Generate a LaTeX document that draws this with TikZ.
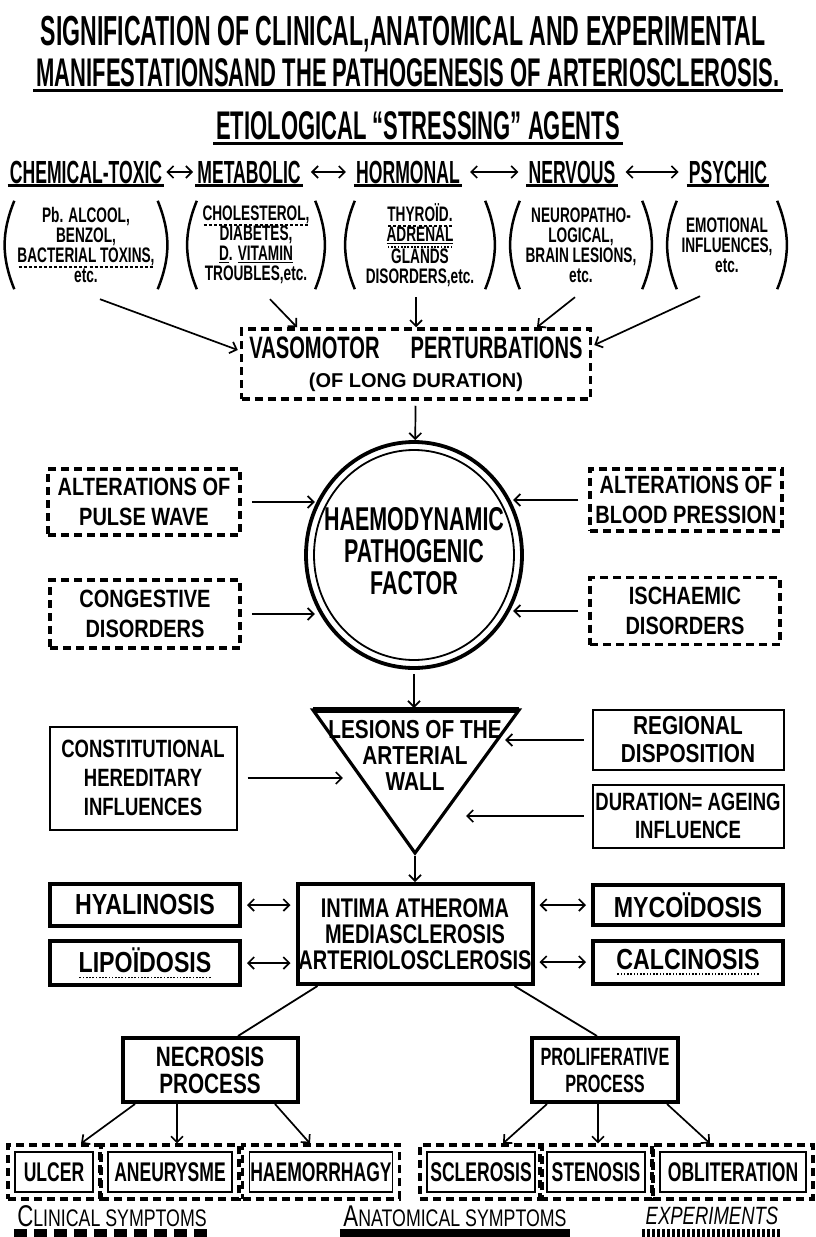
\documentclass[tikz,border=0pt]{standalone}
\usepackage{fontspec}
\setmainfont{Liberation Sans}
\newfontfamily\condA{Liberation Sans}[FakeStretch=0.55]
\newfontfamily\condB{Liberation Sans}[FakeStretch=0.65]
\newfontfamily\condC{Liberation Sans}[FakeStretch=0.74]
\newfontfamily\condD{Liberation Sans}[FakeStretch=0.8]
\usetikzlibrary{arrows.meta,positioning,calc,shapes.geometric,fit}

% dashed and dotted underlines
\newcommand{\dashul}[1]{\setbox0=\hbox{#1}\rlap{\raisebox{-5pt}{\hbox to \wd0{\xleaders\hbox to 5pt{\hss\rule{3pt}{1.6pt}\hss}\hfill}}}\box0}
\newcommand{\dotul}[1]{\setbox0=\hbox{#1}\rlap{\raisebox{-6pt}{\hbox to \wd0{\xleaders\hbox to 3.2pt{\hss\rule{1.7pt}{1.7pt}\hss}\hfill}}}\box0}

\begin{document}
\begin{tikzpicture}[x=1pt,y=-1pt,
  >={Straight Barb[length=6pt,width=12pt]},
  dashbox/.style={draw, line width=3.5pt, dash pattern=on 8pt off 5pt, align=center, inner sep=0pt},
  thinbox/.style={draw, line width=2pt, align=center, inner sep=0pt},
  thickbox/.style={draw, line width=4pt, align=center, inner sep=0pt},
  sidebox/.style={thickbox, minimum width=190pt, font=\condD\bfseries\fontsize{29}{29}\selectfont},
  symbox/.style={draw, line width=1.6pt, inner sep=0pt, minimum height=40pt, font=\condB\bfseries\fontsize{27}{27}\selectfont},
  symframe/.style={draw, line width=3.5pt, dash pattern=on 8pt off 5pt, inner sep=6pt},
  link/.style={->, line width=1.7pt},
  twoway/.style={<->, line width=1.7pt},
  paren/.style={line width=2.5pt},
  ul/.style={append after command={\pgfextra{\let\ulnode=\tikzlastnode} (\ulnode.south west) edge[line width=2.5pt] (\ulnode.south east)}},
  agent/.style={ul, inner sep=2pt, font=\condA\bfseries\fontsize{32}{32}\selectfont},
  cause/.style={align=center, inner sep=0pt, minimum height=88pt, font=\condB\bfseries\fontsize{21}{20}\selectfont}
]
\path[use as bounding box, fill=white] (0,0) rectangle (816,1237);

% title
\node[font=\condA\bfseries\fontsize{42}{42}\selectfont] (title1) at (403,34) {SIGNIFICATION OF CLINICAL,ANATOMICAL AND EXPERIMENTAL};
\node[ul, inner sep=3pt, font=\condA\bfseries\fontsize{40}{40}\selectfont] (title2) at (408,73) {MANIFESTATIONSAND THE PATHOGENESIS OF ARTERIOSCLEROSIS.};
\node[ul, inner sep=3pt, font=\condA\bfseries\fontsize{40}{40}\selectfont] (agents) at (418,126) {ETIOLOGICAL “STRESSING” AGENTS};

% etiological agents
\node[agent] (chemical) at (86,172) {CHEMICAL-TOXIC};
\node[agent] (metabolic) at (249,172) {METABOLIC};
\node[agent] (hormonal) at (408,172) {HORMONAL};
\node[agent] (nervous) at (572,172) {NERVOUS};
\node[agent] (psychic) at (728,172) {PSYCHIC};
\draw[twoway, shorten <=2pt, shorten >=2pt] (chemical) -- (metabolic);
\draw[twoway, shorten <=8pt, shorten >=8pt] (metabolic) -- (hormonal);
\draw[twoway, shorten <=8pt, shorten >=8pt] (hormonal) -- (nervous);
\draw[twoway, shorten <=8pt, shorten >=8pt] (nervous) -- (psychic);

\node[cause, minimum width=143pt] (toxic) at (86,245) {Pb. ALCOOL,\\BENZOL,\\\dashul{BACTERIAL TOXINS,}\\etc.};
\node[cause, minimum width=118pt] (metab) at (256,245) {\dashul{CHOLESTEROL,}\\DIABETES,\\\underline{D}. \underline{VITAMIN}\\TROUBLES,etc.};
\node[cause, minimum width=130pt] (hormon) at (420,245) {\dashul{THYROÏD.}\\\dotul{\underline{ADRENAL}}\\GLANDS\\DISORDERS,etc.};
\node[cause, minimum width=122pt] (nervo) at (581,245) {NEUROPATHO-\\LOGICAL,\\BRAIN LESIONS,\\etc.};
\node[cause, minimum width=100pt] (emotion) at (727,245) {EMOTIONAL\\INFLUENCES,\\etc.};
\foreach \g in {toxic,metab,hormon,nervo,emotion}{
  \draw[paren] (\g.north west) to[bend right=22] (\g.south west);
  \draw[paren] (\g.north east) to[bend left=22] (\g.south east);
}

% vasomotor
\node[dashbox, minimum width=349pt, minimum height=70pt, font=\condB\bfseries\fontsize{31}{30}\selectfont] (vaso) at (416,364) {VASOMOTOR\quad PERTURBATIONS\\[-1pt]{\normalfont\bfseries\fontsize{20}{20}\selectfont (OF LONG DURATION)}};
\draw[link] ($(toxic.south)+(14,10)$) -- ($(vaso.west)+(-2,-14)$);
\draw[link] ($(metab.south)+(14,10)$) -- ($(vaso.north)+(-119,0)$);
\draw[link, shorten <=8pt] (hormon.south -| vaso.north) -- (vaso.north);
\draw[link] ($(nervo.south)+(-6,8)$) -- ($(vaso.north)+(121,0)$);
\draw[link] ($(emotion.south)+(-27,7)$) -- ($(vaso.east)+(2,-19)$);

% haemodynamic factor
\node[ellipse, draw, line width=3.8pt, minimum width=216pt, minimum height=226pt, inner sep=0pt] (haemo) at (414,555) {};
\draw[line width=1.8pt] (haemo.center) ellipse [x radius=100pt, y radius=105pt];
\node[align=center, font=\condB\bfseries\fontsize{33}{32}\selectfont] (haemotext) at (414,551) {HAEMODYNAMIC\\PATHOGENIC\\FACTOR};
\draw[link, shorten <=5pt] (vaso) -- (haemo);

\node[dashbox, minimum width=192pt, minimum height=66pt, font=\condD\bfseries\fontsize{25}{30}\selectfont] (pulse) at (144,502) {ALTERATIONS OF\\PULSE WAVE};
\node[dashbox, minimum width=192pt, minimum height=62pt, font=\condD\bfseries\fontsize{25}{30}\selectfont] (blood) at (686,500) {ALTERATIONS OF\\BLOOD PRESSION};
\node[dashbox, minimum width=190pt, minimum height=68pt, font=\condD\bfseries\fontsize{25}{30}\selectfont] (congest) at (145,614) {CONGESTIVE\\DISORDERS};
\node[dashbox, minimum width=190pt, minimum height=67pt, font=\condD\bfseries\fontsize{25}{30}\selectfont] (ischaemic) at (685,611) {ISCHAEMIC\\DISORDERS};
\draw[link, shorten <=10pt, shorten >=3pt] (pulse.east) -- (pulse.east -| haemo.150);
\draw[link, shorten <=10pt, shorten >=3pt] (blood.west) -- (blood.west -| haemo.30);
\draw[link, shorten <=10pt, shorten >=3pt] (congest.east) -- (congest.east -| haemo.210);
\draw[link, shorten <=10pt, shorten >=3pt] (ischaemic.west) -- (ischaemic.west -| haemo.330);

% lesions of the arterial wall
\coordinate (wallL) at (313,710);
\coordinate (wallR) at (519,710);
\coordinate (wallB) at (415,853);
\draw[line width=3.2pt] (wallL) -- (wallR) -- (wallB) -- cycle;
\draw[line width=5.5pt] (wallL) -- (wallR);
\node[align=center, font=\condD\bfseries\fontsize{26}{26}\selectfont] (wall) at (415,755) {LESIONS OF THE\\ARTERIAL\\WALL};
\draw[link, shorten <=4pt, shorten >=2pt] (haemo.south) -- (haemo.south |- wallL);

\node[thinbox, minimum width=191pt, minimum height=60pt, font=\condD\bfseries\fontsize{26}{28}\selectfont] (regional) at (688,740) {REGIONAL\\DISPOSITION};
\node[thinbox, minimum width=191pt, minimum height=63pt, font=\condC\bfseries\fontsize{25}{28}\selectfont] (ageing) at (688,816) {DURATION= AGEING\\INFLUENCE};
\node[thinbox, minimum width=187pt, minimum height=103pt, font=\condC\bfseries\fontsize{25}{29}\selectfont] (constit) at (143,778) {CONSTITUTIONAL\\HEREDITARY\\INFLUENCES};
\path (wallR) -- (wallB) coordinate[pos=0.21] (edgeA) coordinate[pos=0.74] (edgeB);
\path (wallL) -- (wallB) coordinate[pos=0.49] (edgeC);
\draw[link, shorten <=8pt, shorten >=8pt] (regional.west) -- (regional.west -| edgeA);
\draw[link, shorten <=8pt, shorten >=24pt] (ageing.west) -- (ageing.west -| edgeB);
\draw[link, shorten <=10pt, shorten >=20pt] (constit.east) -- (constit.east -| edgeC);

% anatomical forms
\node[thickbox, minimum width=235pt, minimum height=100pt, font=\condC\bfseries\fontsize{27}{26}\selectfont] (intima) at (415,934) {INTIMA ATHEROMA\\MEDIASCLEROSIS\\ARTERIOLOSCLEROSIS};
\draw[link, shorten <=3pt] (wallB) -- (intima);

\node[sidebox, minimum height=42pt] (hyal) at (145,905) {HYALINOSIS};
\node[sidebox, minimum height=44pt] (lipo) at (145,963) {\dotul{LIPOÏDOSIS}};
\node[sidebox, minimum height=40pt] (myco) at (688,905) {MYCOÏDOSIS};
\node[sidebox, minimum height=43pt] (calc) at (688,962) {\dotul{CALCINOSIS}};
\foreach \s in {hyal,lipo}
  \draw[twoway, shorten <=5pt, shorten >=5pt] (\s.east) -- (\s.east -| intima.west);
\foreach \s in {myco,calc}
  \draw[twoway, shorten <=5pt, shorten >=5pt] (\s.west) -- (\s.west -| intima.east);

% processes
\node[thickbox, minimum width=175pt, minimum height=64pt, font=\condC\bfseries\fontsize{28}{27}\selectfont] (necrosis) at (210,1070) {NECROSIS\\PROCESS};
\node[thickbox, minimum width=146pt, minimum height=64pt, font=\condB\bfseries\fontsize{25}{27}\selectfont] (prolif) at (605,1070) {PROLIFERATIVE\\PROCESS};
\draw[line width=1.8pt] ($(intima.south west)+(22,0)$) -- ($(necrosis.north)+(28,0)$);
\draw[line width=1.8pt] ($(intima.south east)+(-20,0)$) -- ($(prolif.north)+(-8,0)$);

% symptoms
\node[symbox, minimum width=78pt] (ulcer) at (54,1172) {ULCER};
\node[symbox, minimum width=124pt] (aneurysm) at (170,1172) {ANEURYSME};
\node[symbox, minimum width=143pt] (haemorr) at (321,1172) {HAEMORRHAGY};
\node[symbox, minimum width=108pt] (sclerosis) at (481,1172) {SCLEROSIS};
\node[symbox, minimum width=98pt] (stenosis) at (596,1172) {STENOSIS};
\node[symbox, minimum width=146pt] (oblit) at (733,1172) {OBLITERATION};
\foreach \s in {ulcer,aneurysm,haemorr,sclerosis,stenosis,oblit}
  \node[symframe, fit=(\s)] (\s-f) {};
\draw[link] ($(necrosis.south)+(-75,0)$) -- ($(ulcer-f.north)+(27,0)$);
\draw[link] ($(necrosis.south)+(-33,0)$) -- ($(aneurysm-f.north)+(7,0)$);
\draw[link] ($(necrosis.south)+(65,0)$) -- ($(haemorr-f.north)+(-11,0)$);
\draw[link] ($(prolif.south)+(-58,0)$) -- ($(sclerosis-f.north)+(22,0)$);
\draw[link] ($(prolif.south)+(-7,0)$) -- ($(stenosis-f.north)+(2,0)$);
\draw[link] ($(prolif.south)+(62,0)$) -- ($(oblit-f.north)+(-23,0)$);

% legend
\node[font=\condC\fontsize{24}{24}\selectfont] (clinical) at (112,1216) {{\fontsize{30}{30}\selectfont C}LINICAL SYMPTOMS};
\node[font=\condC\fontsize{24}{24}\selectfont] (anatomical) at (455,1216) {{\fontsize{30}{30}\selectfont A}NATOMICAL SYMPTOMS};
\node[font=\condC\itshape\fontsize{25}{25}\selectfont] (experiments) at (712,1216) {EXPERIMENTS};
\draw[line width=8pt, dash pattern=on 13pt off 7pt] ($(clinical.west)+(0,17)$) -- ($(clinical.east)+(0,17)$);
\draw[line width=8pt] ($(anatomical.west)+(0,17)$) -- ($(anatomical.east)+(0,17)$);
\draw[line width=8pt, dash pattern=on 3pt off 2pt] ($(experiments.west)+(0,17)$) -- ($(experiments.east)+(0,17)$);
\end{tikzpicture}
\end{document}
